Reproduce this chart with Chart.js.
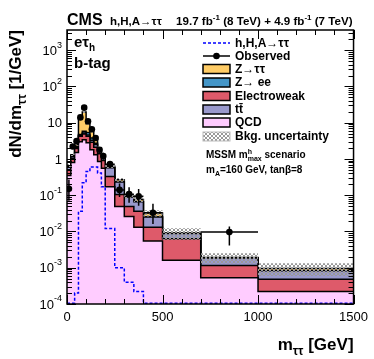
<!DOCTYPE html>
<html>
<head>
<meta charset="utf-8">
<script src="https://cdn.jsdelivr.net/npm/chart.js@4.4.1/dist/chart.umd.min.js"></script>
<style>
  html, body { margin: 0; padding: 0; background: #fff; }
  #wrap { width: 374px; height: 359px; }
</style>
</head>
<body>
<div id="wrap"><canvas id="chartMtt" width="374" height="359"></canvas></div>
<script>
// Bornes des bins en m_tautau (GeV)
const binEdges = [0, 20, 40, 60, 80, 100, 120, 140, 160, 180, 200, 250, 300, 350, 400, 500, 700, 1000, 1500];

// Contributions des bruits de fond (dN/dm, 1/GeV), une valeur par bin
const qcd   = [0.35, 0.8, 1.5, 3.0, 3.4, 2.8, 1.8, 1.3, 0.85, 0.55, 0.17, 0.049, 0.026, 0.013, 0.0055, 0.0016, 0.00053, 0.00022];
const ewk   = [0.15, 0.25, 0.45, 1.2, 1.5, 1.4, 1.1, 0.8, 0.55, 0.35, 0.16, 0.056, 0.023, 0.023, 0.0075, 0.0047, 0.00062, 0.00026];
const ttbar = [0.1, 0.12, 0.15, 0.25, 0.3, 0.35, 0.4, 0.4, 0.35, 0.3, 0.24, 0.125, 0.04, 0.03, 0.012, 0.0025, 0.0007, 0.00035];
const zee   = [0.02, 0.04, 0.08, 0.3, 0.6, 0.8, 0.5, 0.2, 0.08, 0.03, 0.01, 0.003, 0.001, 0.0005, 0.0002, 0.00005, 0.00001, 0.00001];
const ztt   = [0.03, 0.1, 0.3, 9.0, 14.0, 4.0, 2.0, 0.7, 0.2, 0.07, 0.05, 0.035, 0.004, 0.01, 0.007, 0.0002, 0.00005, 0.00012];
// incertitude relative sur le bruit de fond total
const bkgUnc = [0.12, 0.08, 0.07, 0.06, 0.06, 0.06, 0.07, 0.08, 0.09, 0.1, 0.1, 0.12, 0.15, 0.15, 0.2, 0.35, 0.32, 0.38];

// Signal h,H,A -> tautau (mA = 160 GeV, tanb = 8)
const signalH = [1.05e-4, 1.05e-4, 2e-4, 0.036, 0.22, 0.45, 0.6, 0.6, 0.41, 0.17, 0.012, 0.001, 4e-4, 2.2e-4, 1.05e-4, 1.05e-4, 1.05e-4, 1.05e-4];

// Données observées (null = pas d'événement)
const observed = [0.15, 2.2, 3.1, 14, 26, 11, 6.6, 3.8, 1.8, 1.2, 0.72, 0.14, 0.107, 0.093, 0.033, null, 0.0096, null];
const obsErrLo = [0.08, 0.33, 0.39, 0.84, 1.1, 0.74, 0.57, 0.44, 0.3, 0.25, 0.12, 0.05, 0.045, 0.042, 0.017, null, 0.0055, null];
const obsErrHi = [0.12, 0.35, 0.41, 0.86, 1.2, 0.76, 0.6, 0.47, 0.33, 0.28, 0.13, 0.07, 0.06, 0.055, 0.025, null, 0.0042, null];

// Graduations
const xTickLabels = [0, 500, 1000, 1500];
const yDecades = [-4, -3, -2, -1, 0, 1, 2, 3];

const POLICE = '"Liberation Sans", Arial, Helvetica, sans-serif';
const COULEURS = { ztt: '#FFCC66', zee: '#4496C8', ewk: '#DE5A6A', tt: '#9999CC', qcd: '#FFCCFF' };

// points d'un histogramme en escalier (bord gauche de chaque bin + bord final)
function stepPoints(vals) {
  const pts = vals.map((v, i) => ({ x: binEdges[i], y: v }));
  pts.push({ x: binEdges[binEdges.length - 1], y: vals[vals.length - 1] });
  return pts;
}
function somme(...couches) {
  return couches[0].map((_, i) => couches.reduce((s, c) => s + c[i], 0));
}

const cumQcd = qcd;
const cumEwk = somme(qcd, ewk);
const cumTt  = somme(qcd, ewk, ttbar);
const cumZee = somme(qcd, ewk, ttbar, zee);
const cumTot = somme(qcd, ewk, ttbar, zee, ztt);
const uncHaut = cumTot.map((v, i) => v * (1 + bkgUnc[i]));
const uncBas  = cumTot.map((v, i) => v * (1 - bkgUnc[i]));

// motif hachuré gris pour l'incertitude
function motifHachure() {
  const c = document.createElement('canvas');
  c.width = 4; c.height = 4;
  const g = c.getContext('2d');
  g.fillStyle = '#999';
  [[0, 0], [1, 1], [2, 2], [3, 3], [3, 0], [2, 1], [1, 2], [0, 3]].forEach(p => g.fillRect(p[0], p[1], 1, 1));
  return g.createPattern(c, 'repeat');
}
const hachure = motifHachure();

// texte avec indices / exposants : runs = [[texte, mode, sansAvance]]
function texteRiche(ctx, runs, x, y, taille, align) {
  const petit = Math.round(taille * 0.68);
  let w = 0;
  runs.forEach(r => {
    ctx.font = 'bold ' + (r[1] === 'n' ? taille : petit) + 'px ' + POLICE;
    if (!r[2]) w += ctx.measureText(r[0]).width;
  });
  let cx = align === 'right' ? x - w : x;
  runs.forEach(r => {
    const t = r[1] === 'n' ? taille : petit;
    ctx.font = 'bold ' + t + 'px ' + POLICE;
    let dy = 0;
    if (r[1] === 'sub') dy = taille * 0.28;
    if (r[1] === 'sup') dy = -taille * 0.42;
    ctx.fillText(r[0], cx, y + dy);
    if (!r[2]) cx += ctx.measureText(r[0]).width;
  });
}

const pluginDecor = {
  id: 'decorMtt',
  afterDatasetsDraw(chart) {
    const { ctx, chartArea: a } = chart;
    const sx = chart.scales.x, sy = chart.scales.y;
    ctx.save();
    // barres d'erreur des données
    ctx.strokeStyle = '#000';
    ctx.lineWidth = 1.5;
    observed.forEach((v, i) => {
      if (v === null) return;
      const xm = sx.getPixelForValue((binEdges[i] + binEdges[i + 1]) / 2);
      const yv = sy.getPixelForValue(v);
      const yb = Math.min(sy.getPixelForValue(Math.max(v - obsErrLo[i], 1e-6)), a.bottom);
      const yh = sy.getPixelForValue(v + obsErrHi[i]);
      ctx.beginPath();
      ctx.moveTo(xm, yb); ctx.lineTo(xm, yh);
      ctx.moveTo(sx.getPixelForValue(binEdges[i]), yv);
      ctx.lineTo(sx.getPixelForValue(binEdges[i + 1]), yv);
      ctx.stroke();
    });
    ctx.restore();
  },
  afterDraw(chart) {
    const { ctx, chartArea: a } = chart;
    const sx = chart.scales.x, sy = chart.scales.y;
    ctx.save();
    ctx.strokeStyle = '#000';
    ctx.fillStyle = '#000';

    // cadre
    ctx.lineWidth = 1.5;
    ctx.strokeRect(a.left, a.top, a.right - a.left, a.bottom - a.top);

    // graduations internes
    ctx.lineWidth = 1;
    ctx.beginPath();
    yDecades.forEach(e => {
      for (let k = 1; k <= 9; k++) {
        const v = k * Math.pow(10, e);
        if (v < sy.min || v > sy.max) continue;
        const py = Math.round(sy.getPixelForValue(v)) + 0.5;
        const L = k === 1 ? 9 : 5;
        ctx.moveTo(a.left, py); ctx.lineTo(a.left + L, py);
        ctx.moveTo(a.right, py); ctx.lineTo(a.right - L, py);
      }
    });
    for (let m = 0; m <= 1500; m += 100) {
      const px = Math.round(sx.getPixelForValue(m)) + 0.5;
      const L = m % 500 === 0 ? 9 : 5;
      ctx.moveTo(px, a.bottom); ctx.lineTo(px, a.bottom - L);
      ctx.moveTo(px, a.top); ctx.lineTo(px, a.top + L);
    }
    ctx.stroke();

    // étiquettes de l'axe y (puissances de 10)
    ctx.textBaseline = 'middle';
    ctx.textAlign = 'left';
    yDecades.forEach(e => {
      const py = sy.getPixelForValue(Math.pow(10, e));
      const base = e === 0 ? '1' : '10';
      const expo = (e === 0 || e === 1) ? '' : String(e);
      ctx.font = '9px ' + POLICE;
      const wE = expo ? ctx.measureText(expo).width : 0;
      ctx.font = '13px ' + POLICE;
      const wB = ctx.measureText(base).width;
      const xr = a.left - 5;
      ctx.fillText(base, xr - wE - wB, py + 1);
      if (expo) {
        ctx.font = '9px ' + POLICE;
        ctx.fillText(expo, xr - wE, py - 5);
      }
    });

    // titres d'axes
    ctx.textBaseline = 'alphabetic';
    texteRiche(ctx, [['m', 'n'], ['ττ', 'sub'], [' [GeV]', 'n']], a.right, 350, 17, 'right');
    ctx.save();
    ctx.translate(21, a.top);
    ctx.rotate(-Math.PI / 2);
    texteRiche(ctx, [['dN/dm', 'n'], ['ττ', 'sub'], [' [1/GeV]', 'n']], 0, 0, 17, 'right');
    ctx.restore();

    // en-tête
    ctx.font = 'bold 16px ' + POLICE;
    ctx.fillText('CMS', a.left, 25);
    texteRiche(ctx, [['h,H,A→ττ', 'n']], 110, 25, 11.5, 'left');
    texteRiche(ctx, [['19.7 fb', 'n'], ['-1', 'sup'], [' (8 TeV) + 4.9 fb', 'n'], ['-1', 'sup'], [' (7 TeV)', 'n']], a.right - 1, 25, 11.6, 'right');

    // canal
    texteRiche(ctx, [['eτ', 'n'], ['h', 'sub']], 74, 47, 15, 'left');
    texteRiche(ctx, [['b-tag', 'n']], 74, 68, 15, 'left');

    // légende
    const lx0 = 203, lx1 = 230, tx = 235;
    const lignes = [
      { y: 43, lab: [['h,H,A→ττ', 'n']], type: 'sig' },
      { y: 56, lab: [['Observed', 'n']], type: 'obs' },
      { y: 69, lab: [['Z→ττ', 'n']], type: 'box', c: COULEURS.ztt },
      { y: 82.5, lab: [['Z→ ee', 'n']], type: 'box', c: COULEURS.zee },
      { y: 96, lab: [['Electroweak', 'n']], type: 'box', c: COULEURS.ewk },
      { y: 109.5, lab: [['tt̄', 'n']], type: 'box', c: COULEURS.tt },
      { y: 122.5, lab: [['QCD', 'n']], type: 'box', c: COULEURS.qcd },
      { y: 136.5, lab: [['Bkg. uncertainty', 'n']], type: 'unc' }
    ];
    lignes.forEach(l => {
      if (l.type === 'sig') {
        ctx.strokeStyle = '#0000ff'; ctx.lineWidth = 1.5;
        ctx.setLineDash([3, 2]);
        ctx.beginPath(); ctx.moveTo(lx0, l.y); ctx.lineTo(lx1, l.y); ctx.stroke();
        ctx.setLineDash([]);
      } else if (l.type === 'obs') {
        ctx.strokeStyle = '#000'; ctx.lineWidth = 1.5;
        ctx.beginPath(); ctx.moveTo(lx0, l.y); ctx.lineTo(lx1, l.y); ctx.stroke();
        ctx.beginPath(); ctx.arc((lx0 + lx1) / 2, l.y, 3.3, 0, 2 * Math.PI); ctx.fill();
      } else if (l.type === 'box') {
        ctx.fillStyle = l.c;
        ctx.fillRect(lx0, l.y - 4.5, lx1 - lx0, 9);
        ctx.strokeStyle = '#000'; ctx.lineWidth = 1.5;
        ctx.strokeRect(lx0, l.y - 4.5, lx1 - lx0, 9);
      } else {
        ctx.fillStyle = hachure;
        ctx.fillRect(lx0, l.y - 4.5, lx1 - lx0, 9);
        ctx.strokeStyle = '#bbb'; ctx.lineWidth = 1;
        ctx.strokeRect(lx0, l.y - 4.5, lx1 - lx0, 9);
      }
      ctx.fillStyle = '#000';
      ctx.textBaseline = 'middle';
      texteRiche(ctx, l.lab, tx, l.y + 0.5, 12, 'left');
    });

    // scénario MSSM
    ctx.textBaseline = 'alphabetic';
    texteRiche(ctx, [['MSSM m', 'n'], ['h', 'sup', true], ['max', 'sub'], [' scenario', 'n']], 206, 158, 10, 'left');
    texteRiche(ctx, [['m', 'n'], ['A', 'sub'], ['=160 GeV, tanβ=8', 'n']], 206, 173, 10, 'left');

    ctx.restore();
  }
};

const pileDs = (label, vals, couleur, ordre) => ({
  label: label,
  data: stepPoints(vals),
  stepped: true,
  fill: 'start',
  backgroundColor: couleur,
  borderColor: '#000',
  borderWidth: 1.5,
  pointRadius: 0,
  order: ordre
});

new Chart(document.getElementById('chartMtt'), {
  type: 'line',
  data: {
    datasets: [
      {
        label: 'Observed',
        data: observed.map((v, i) => ({ x: (binEdges[i] + binEdges[i + 1]) / 2, y: v })),
        showLine: false,
        pointRadius: 3.3,
        pointBackgroundColor: '#000',
        pointBorderColor: '#000',
        pointBorderWidth: 0,
        order: 0
      },
      {
        label: 'h,H,A→ττ',
        data: stepPoints(signalH),
        stepped: true,
        fill: false,
        borderColor: '#0000ff',
        borderWidth: 1.5,
        borderDash: [3, 2],
        pointRadius: 0,
        order: 1
      },
      {
        label: 'Bkg. uncertainty',
        data: stepPoints(uncHaut),
        stepped: true,
        fill: '+1',
        backgroundColor: hachure,
        borderWidth: 0,
        pointRadius: 0,
        order: 2
      },
      {
        label: 'unc-bas',
        data: stepPoints(uncBas),
        stepped: true,
        fill: false,
        borderWidth: 0,
        pointRadius: 0,
        order: 2
      },
      pileDs('QCD', cumQcd, COULEURS.qcd, 3),
      pileDs('Electroweak', cumEwk, COULEURS.ewk, 4),
      pileDs('tt', cumTt, COULEURS.tt, 5),
      pileDs('Z→ee', cumZee, COULEURS.zee, 6),
      pileDs('Z→ττ', cumTot, COULEURS.ztt, 7)
    ]
  },
  options: {
    responsive: false,
    devicePixelRatio: 1,
    animation: false,
    layout: { padding: { top: 30, right: 18, left: 0, bottom: 0 } },
    plugins: { legend: { display: false }, tooltip: { enabled: false } },
    scales: {
      x: {
        type: 'linear',
        min: 0,
        max: 1500,
        grid: { display: false, drawTicks: false },
        border: { display: false },
        ticks: {
          stepSize: 500,
          autoSkip: false,
          padding: 6,
          color: '#000',
          font: { family: POLICE, size: 13 },
          callback: (v) => xTickLabels.includes(v) ? String(v) : ''
        },
        afterFit: (s) => { s.height = 55; }
      },
      y: {
        type: 'logarithmic',
        min: 1e-4,
        max: 3600,
        grid: { display: false, drawTicks: false },
        border: { display: false },
        ticks: { display: false },
        afterFit: (s) => { s.width = 67; }
      }
    }
  },
  plugins: [pluginDecor]
});
</script>
</body>
</html>
